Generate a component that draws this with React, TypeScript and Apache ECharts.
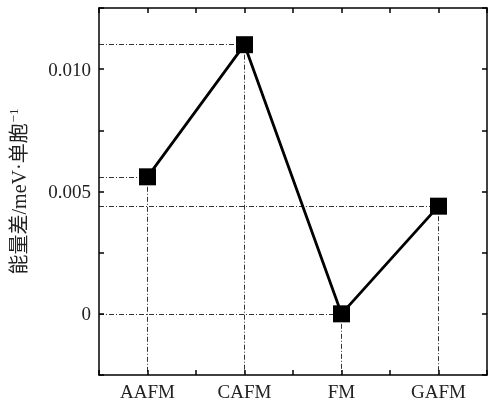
import React, { useEffect, useRef } from "react";
import * as echarts from "echarts";

const categories = ["AAFM", "CAFM", "FM", "GAFM"];
const energyDiff = [0.0056, 0.011, 0, 0.0044];
const yTickLabels = ["0", "0.005", "0.010"];

const Y_MIN = -0.0025;
const Y_MAX = 0.0125;
const X_MIN = 0.5;
const X_MAX = 4.5;

const FONT = "'Liberation Serif', 'DejaVu Serif', serif";

export default function App() {
  const ref = useRef<HTMLDivElement>(null);
  useEffect(() => {
    if (!ref.current) return;
    const chart = echarts.init(ref.current, undefined, { renderer: "svg" });
    const pts = categories.map((c, i) => [i + 1, energyDiff[i]]);
    const guideStyle = { color: "#000", width: 0.8, type: [5, 2, 1, 2] as any };
    const markData: any[] = [];
    pts.forEach((p) => {
      markData.push([{ coord: [X_MIN, p[1]] }, { coord: [p[0], p[1]] }]);
      markData.push([{ coord: [p[0], p[1]] }, { coord: [p[0], Y_MIN] }]);
    });
    const yLabel = (v: number) => {
      const k = Math.round(v / 0.0025);
      if (k % 2 !== 0 || k < 0) return "";
      return yTickLabels[k / 2] ?? "";
    };
    const xLabel = (v: number) => {
      const r = Math.round(v * 2);
      if (r % 2 !== 0) return "";
      return categories[r / 2 - 1] ?? "";
    };
    const axisLine = { show: true, onZero: false, lineStyle: { color: "#000", width: 1.5 } };
    const tick = { show: true, inside: true, length: 5, lineStyle: { color: "#000", width: 1.5 } };
    chart.setOption({
      animation: false,
      grid: { left: 99, right: 1, top: 8, bottom: 28, containLabel: false, outerBoundsMode: "none" },
      xAxis: [
        {
          type: "value",
          min: X_MIN,
          max: X_MAX,
          interval: 0.5,
          axisLine,
          axisTick: tick,
          splitLine: { show: false },
          axisLabel: { formatter: xLabel, color: "#222", fontSize: 19, fontFamily: FONT, margin: 7, showMinLabel: true, showMaxLabel: true },
        },
        {
          type: "value",
          position: "top",
          min: X_MIN,
          max: X_MAX,
          interval: 0.5,
          axisLine,
          axisTick: tick,
          splitLine: { show: false },
          axisLabel: { show: false },
        },
      ],
      yAxis: [
        {
          type: "value",
          min: Y_MIN,
          max: Y_MAX,
          interval: 0.0025,
          axisLine,
          axisTick: tick,
          splitLine: { show: false },
          axisLabel: { formatter: yLabel, color: "#222", fontSize: 19, fontFamily: FONT, margin: 8 },
          name: "能量差/meV·单胞{sup|−1}",
          nameLocation: "middle",
          nameGap: 68,
          nameTextStyle: {
            color: "#222",
            fontSize: 20,
            fontFamily: "'Liberation Serif', 'Noto Sans CJK SC', serif",
            rich: {
              sup: { fontSize: 13, fontFamily: FONT, color: "#222", padding: [0, 0, 11, 1] },
            },
          },
        },
        {
          type: "value",
          position: "right",
          min: Y_MIN,
          max: Y_MAX,
          interval: 0.0025,
          axisLine,
          axisTick: tick,
          splitLine: { show: false },
          axisLabel: { show: false },
        },
      ],
      series: [
        {
          type: "line",
          data: pts,
          symbol: "rect",
          symbolSize: 17,
          itemStyle: { color: "#000" },
          lineStyle: { color: "#000", width: 2.8 },
          z: 3,
          markLine: {
            silent: true,
            symbol: "none",
            label: { show: false },
            lineStyle: guideStyle,
            data: markData,
            z: 1,
          },
        },
      ],
    });
    return () => chart.dispose();
  }, []);
  return <div ref={ref} style={{ position: "fixed", left: 0, top: 0, width: 488, height: 403 }} />;
}
